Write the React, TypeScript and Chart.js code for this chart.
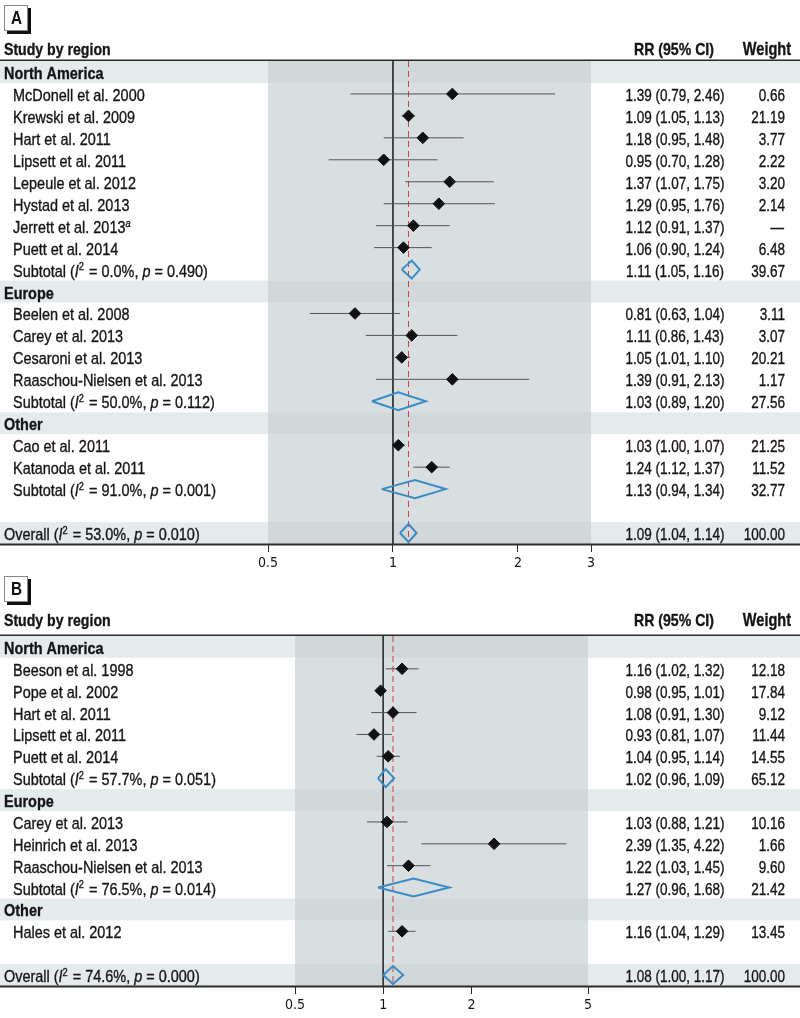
import React, { useEffect, useRef } from "react";
import { Chart, registerables } from "chart.js";

Chart.register(...registerables);

const FONT = "'Liberation Sans', Arial, sans-serif";
const TICK_FONT = "'DejaVu Sans Condensed', 'Liberation Sans', sans-serif";
const SX = 0.83; // horizontal condensing of the numeric / header face
const SX_NAME = 0.85; // horizontal condensing of the study-name face

// ---------------- Panel A data ----------------
const A_LABELS = [
  "North America",
  "McDonell et al. 2000",
  "Krewski et al. 2009",
  "Hart et al. 2011",
  "Lipsett et al. 2011",
  "Lepeule et al. 2012",
  "Hystad et al. 2013",
  "Jerrett et al. 2013^a",
  "Puett et al. 2014",
  "Subtotal (I² = 0.0%, p = 0.490)",
  "Europe",
  "Beelen et al. 2008",
  "Carey et al. 2013",
  "Cesaroni et al. 2013",
  "Raaschou-Nielsen et al. 2013",
  "Subtotal (I² = 50.0%, p = 0.112)",
  "Other",
  "Cao et al. 2011",
  "Katanoda et al. 2011",
  "Subtotal (I² = 91.0%, p = 0.001)",
  "",
  "Overall (I² = 53.0%, p = 0.010)",
];
const A_KINDS = [
  "region", "study", "study", "study", "study", "study", "study", "study", "study", "subtotal",
  "region", "study", "study", "study", "study", "subtotal",
  "region", "study", "study", "subtotal",
  "blank", "overall",
];
const A_RR = [null, 1.39, 1.09, 1.18, 0.95, 1.37, 1.29, 1.12, 1.06, 1.11, null, 0.81, 1.11, 1.05, 1.39, 1.03, null, 1.03, 1.24, 1.13, null, 1.09];
const A_LOW = [null, 0.79, 1.05, 0.95, 0.70, 1.07, 0.95, 0.91, 0.90, 1.05, null, 0.63, 0.86, 1.01, 0.91, 0.89, null, 1.00, 1.12, 0.94, null, 1.04];
const A_HIGH = [null, 2.46, 1.13, 1.48, 1.28, 1.75, 1.76, 1.37, 1.24, 1.16, null, 1.04, 1.43, 1.10, 2.13, 1.20, null, 1.07, 1.37, 1.34, null, 1.14];
const A_WEIGHT = [null, 0.66, 21.19, 3.77, 2.22, 3.20, 2.14, null, 6.48, 39.67, null, 3.11, 3.07, 20.21, 1.17, 27.56, null, 21.25, 11.52, 32.77, null, 100.0];
const A_TICKS = [0.5, 1, 2, 3];

// ---------------- Panel B data ----------------
const B_LABELS = [
  "North America",
  "Beeson et al. 1998",
  "Pope et al. 2002",
  "Hart et al. 2011",
  "Lipsett et al. 2011",
  "Puett et al. 2014",
  "Subtotal (I² = 57.7%, p = 0.051)",
  "Europe",
  "Carey et al. 2013",
  "Heinrich et al. 2013",
  "Raaschou-Nielsen et al. 2013",
  "Subtotal (I² = 76.5%, p = 0.014)",
  "Other",
  "Hales et al. 2012",
  "",
  "Overall (I² = 74.6%, p = 0.000)",
];
const B_KINDS = [
  "region", "study", "study", "study", "study", "study", "subtotal",
  "region", "study", "study", "study", "subtotal",
  "region", "study",
  "blank", "overall",
];
const B_RR = [null, 1.16, 0.98, 1.08, 0.93, 1.04, 1.02, null, 1.03, 2.39, 1.22, 1.27, null, 1.16, null, 1.08];
const B_LOW = [null, 1.02, 0.95, 0.91, 0.81, 0.95, 0.96, null, 0.88, 1.35, 1.03, 0.96, null, 1.04, null, 1.00];
const B_HIGH = [null, 1.32, 1.01, 1.30, 1.07, 1.14, 1.09, null, 1.21, 4.22, 1.45, 1.68, null, 1.29, null, 1.17];
const B_WEIGHT = [null, 12.18, 17.84, 9.12, 11.44, 14.55, 65.12, null, 10.16, 1.66, 9.60, 21.42, null, 13.45, null, 100.0];
const B_TICKS = [0.5, 1, 2, 5];

// ---------------- styling ----------------
const TEXT = "#151515";
const BAND = "#e5ebed";
const GRAY = "#d9dee0";
const BAND_GRAY = "#d2d7d9";
const CI_COLOR = "#555555";
const DIAMOND_COLOR = "#3a8cc4";
const REF_RED = "#c8424e";
const DIAMOND_HALF = 0.41;

type Seg = { t: string; it?: boolean; sup?: boolean };

function parseLabel(label: string): Seg[] {
  const m = label.match(/^(.*\()I² = (.*), p = (.*\))$/);
  if (m) {
    return [
      { t: m[1] },
      { t: "I", it: true },
      { t: "2", sup: true },
      { t: " = " + m[2] + ", " },
      { t: "p", it: true },
      { t: " = " + m[3] },
    ];
  }
  if (label.endsWith("^a")) return [{ t: label.slice(0, -2) }, { t: "a", it: true, sup: true }];
  return [{ t: label }];
}

function condText(
  ctx: CanvasRenderingContext2D,
  text: string,
  x: number,
  y: number,
  font: string,
  align: "left" | "center" | "right",
  sx: number = SX
): number {
  ctx.font = font;
  const w = ctx.measureText(text).width * sx;
  const x0 = align === "left" ? x : align === "center" ? x - w / 2 : x - w;
  ctx.save();
  ctx.translate(x0, y);
  ctx.scale(sx, 1);
  ctx.textAlign = "left";
  ctx.fillText(text, 0, 0);
  ctx.lineWidth = 0.35;
  ctx.strokeStyle = ctx.fillStyle as string;
  ctx.strokeText(text, 0, 0);
  ctx.restore();
  return w;
}

function drawRich(ctx: CanvasRenderingContext2D, label: string, x: number, y: number, size: number, weight: string) {
  let cx = x;
  for (const s of parseLabel(label)) {
    const sz = s.sup ? size * 0.64 : size;
    const font = `${s.it ? "italic " : ""}${weight} ${sz}px ${FONT}`;
    cx += condText(ctx, s.t, cx, s.sup ? y - size * 0.36 : y, font, "left", SX_NAME) + (s.sup ? 1 : 0);
  }
}

type PanelProps = {
  labels: string[];
  kinds: string[];
  rr: (number | null)[];
  low: (number | null)[];
  high: (number | null)[];
  weight: (number | null)[];
  ticks: number[];
  height: number;
  plotLeft: number;
  plotRight: number;
  plotTop: number;
  plotBottom: number;
  headerY: number;
};

function ForestPanel(p: PanelProps) {
  const ref = useRef<HTMLCanvasElement>(null);
  useEffect(() => {
    const canvas = ref.current;
    if (!canvas) return;
    const n = p.labels.length;
    const overall = p.rr[n - 1] as number;
    const datasets: any[] = [];
    datasets.push({
      type: "line",
      data: [{ x: 1, y: -0.5 }, { x: 1, y: n - 0.5 }],
      borderColor: "#333333",
      borderWidth: 1,
      pointRadius: 0,
      order: 6,
    });
    datasets.push({
      type: "line",
      data: [{ x: overall, y: -0.5 }, { x: overall, y: n - 0.5 }],
      borderColor: REF_RED,
      borderWidth: 1,
      borderDash: [6, 4],
      pointRadius: 0,
      order: 5,
    });
    p.kinds.forEach((k, i) => {
      if (k === "study") {
        datasets.push({
          type: "line",
          data: [{ x: p.low[i], y: i }, { x: p.high[i], y: i }],
          borderColor: CI_COLOR,
          borderWidth: 1,
          pointRadius: 0,
          order: 3,
        });
      } else if (k === "subtotal" || k === "overall") {
        const r = p.rr[i] as number;
        datasets.push({
          type: "line",
          data: [
            { x: p.low[i], y: i },
            { x: r, y: i - DIAMOND_HALF },
            { x: p.high[i], y: i },
            { x: r, y: i + DIAMOND_HALF },
            { x: p.low[i], y: i },
          ],
          borderColor: DIAMOND_COLOR,
          borderWidth: 2,
          borderJoinStyle: "miter",
          pointRadius: 0,
          fill: false,
          tension: 0,
          order: 1,
        });
      }
    });
    datasets.push({
      type: "scatter",
      data: p.kinds
        .map((k, i) => (k === "study" ? { x: p.rr[i], y: i } : null))
        .filter((d) => d !== null),
      pointStyle: "rectRot",
      pointRadius: 5.8,
      backgroundColor: "#111",
      borderColor: "#111",
      borderWidth: 1,
      order: 0,
    });

    const bgPlugin = {
      id: "forestBg",
      beforeDatasetsDraw(chart: any) {
        const { ctx, chartArea: ca, scales } = chart;
        const ys = scales.y;
        ctx.save();
        ctx.fillStyle = GRAY;
        ctx.fillRect(ca.left, ca.top, ca.right - ca.left, ca.bottom - ca.top);
        p.kinds.forEach((k, i) => {
          if (k === "region" || k === "overall") {
            const y0 = ys.getPixelForValue(i - 0.5);
            const y1 = ys.getPixelForValue(i + 0.5);
            ctx.fillStyle = BAND;
            ctx.fillRect(0, y0, chart.width, y1 - y0);
            ctx.fillStyle = BAND_GRAY;
            ctx.fillRect(ca.left, y0, ca.right - ca.left, y1 - y0);
          }
        });
        ctx.restore();
      },
    };

    const textPlugin = {
      id: "forestText",
      afterDraw(chart: any) {
        const { ctx, chartArea: ca, scales } = chart;
        const ys = scales.y;
        ctx.save();
        ctx.strokeStyle = "#2b2b2b";
        ctx.lineWidth = 1.5;
        ctx.beginPath();
        ctx.moveTo(0, ca.top - 0.75);
        ctx.lineTo(chart.width, ca.top - 0.75);
        ctx.stroke();
        ctx.lineWidth = 2;
        ctx.beginPath();
        ctx.moveTo(0, ca.bottom + 0.5);
        ctx.lineTo(chart.width, ca.bottom + 0.5);
        ctx.stroke();

        ctx.fillStyle = TEXT;
        ctx.textBaseline = "alphabetic";
        const hb = `bold 17px ${FONT}`;
        condText(ctx, "Study by region", 4, p.headerY, hb, "left");
        condText(ctx, "RR (95% CI)", 674, p.headerY, hb, "center");
        condText(ctx, "Weight", 791, p.headerY, `bold 17.5px ${FONT}`, "right");

        p.labels.forEach((lab, i) => {
          const k = p.kinds[i];
          if (k === "blank") return;
          const yc = ys.getPixelForValue(i);
          const base = yc + 7;
          if (k === "region") {
            drawRich(ctx, lab, 4, base, 17, "bold");
            return;
          }
          drawRich(ctx, lab, k === "overall" ? 4 : 13, base, 17, "normal");
          const r = p.rr[i] as number;
          const lo = p.low[i] as number;
          const hi = p.high[i] as number;
          const nf = `16.3px ${FONT}`;
          condText(ctx, `${r.toFixed(2)} (${lo.toFixed(2)}, ${hi.toFixed(2)})`, 675, base, nf, "center");
          const w = p.weight[i];
          if (w === null) condText(ctx, "—", 784, base, nf, "right");
          else condText(ctx, w.toFixed(2), 785, base, nf, "right");
        });
        ctx.restore();
      },
    };

    const chart = new Chart(canvas, {
      type: "scatter",
      data: { datasets },
      options: {
        animation: false,
        responsive: false,
        maintainAspectRatio: false,
        layout: {
          padding: { left: p.plotLeft, right: 800 - p.plotRight, top: p.plotTop, bottom: 0 },
        },
        scales: {
          x: {
            type: "logarithmic",
            min: p.ticks[0],
            max: p.ticks[p.ticks.length - 1],
            afterBuildTicks: (s: any) => {
              s.ticks = p.ticks.map((v) => ({ value: v }));
            },
            afterFit: (s: any) => {
              s.height = p.height - p.plotBottom;
            },
            border: { display: false },
            grid: { drawOnChartArea: false, drawTicks: true, tickLength: 8, color: "#2b2b2b", lineWidth: 1 },
            ticks: {
              autoSkip: false,
              maxRotation: 0,
              padding: 3,
              color: TEXT,
              font: { family: TICK_FONT, size: 14 },
              callback: (v: any) => String(v),
            },
          },
          y: { type: "linear", min: -0.5, max: n - 0.5, reverse: true, display: false },
        },
        plugins: { legend: { display: false }, tooltip: { enabled: false } },
      } as any,
      plugins: [bgPlugin, textPlugin],
    });
    return () => chart.destroy();
  }, []);
  return <canvas ref={ref} width={800} height={p.height} style={{ display: "block", width: 800, height: p.height }} />;
}

function PanelLabel({ text, top }: { text: string; top: number }) {
  return (
    <div
      style={{
        position: "absolute",
        left: 4,
        top,
        width: 22,
        height: 24,
        border: "1px solid #888",
        boxShadow: "3px 3px 0 #111",
        background: "#fff",
        color: "#111",
        font: `bold 18px ${FONT}`,
        display: "flex",
        alignItems: "center",
        justifyContent: "center",
        zIndex: 2,
      }}
    >
      <span style={{ display: "inline-block", transform: "scaleX(0.85)" }}>{text}</span>
    </div>
  );
}

export default function App() {
  return (
    <div style={{ position: "absolute", left: 0, top: 0, width: 800, height: 1018, background: "#fff", overflow: "hidden" }}>
      <div style={{ position: "absolute", left: 0, top: 0 }}>
        <ForestPanel
          labels={A_LABELS}
          kinds={A_KINDS}
          rr={A_RR}
          low={A_LOW}
          high={A_HIGH}
          weight={A_WEIGHT}
          ticks={A_TICKS}
          height={575}
          plotLeft={268}
          plotRight={591}
          plotTop={61}
          plotBottom={544}
          headerY={55}
        />
      </div>
      <div style={{ position: "absolute", left: 0, top: 570 }}>
        <ForestPanel
          labels={B_LABELS}
          kinds={B_KINDS}
          rr={B_RR}
          low={B_LOW}
          high={B_HIGH}
          weight={B_WEIGHT}
          ticks={B_TICKS}
          height={448}
          plotLeft={295}
          plotRight={588}
          plotTop={66}
          plotBottom={416}
          headerY={56}
        />
      </div>
      <PanelLabel text="A" top={5} />
      <PanelLabel text="B" top={576} />
    </div>
  );
}
